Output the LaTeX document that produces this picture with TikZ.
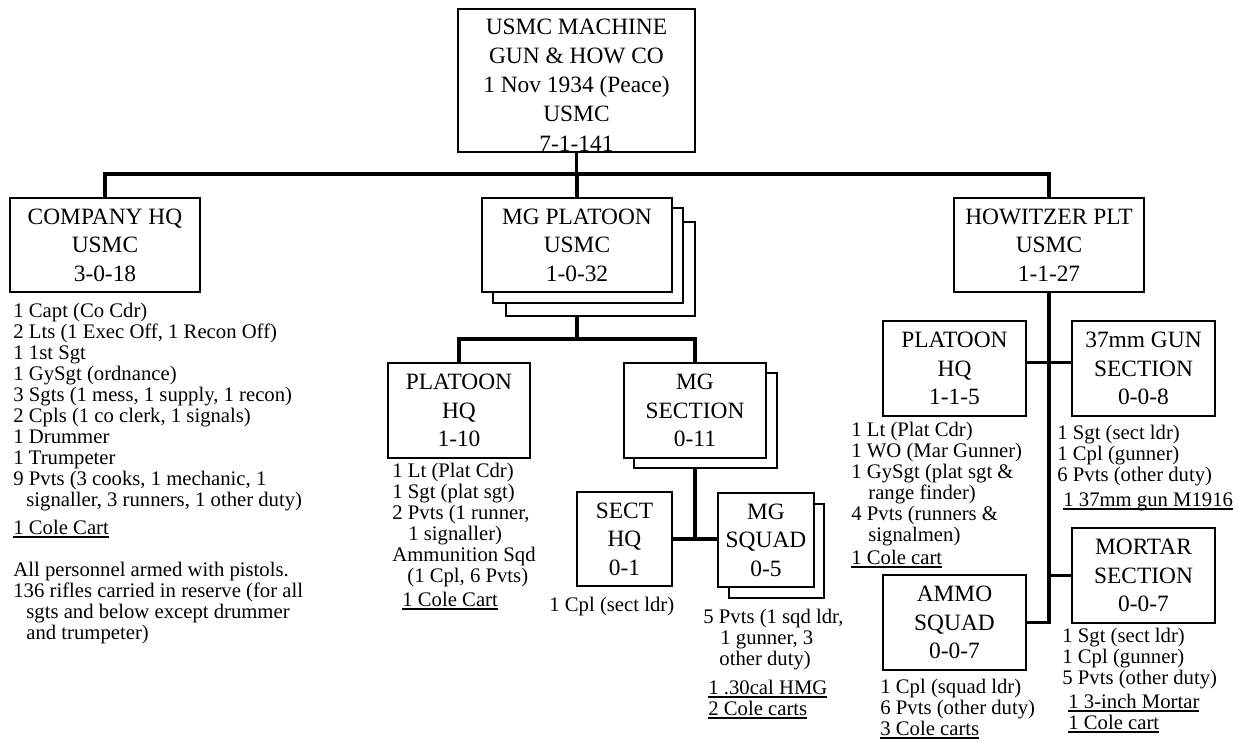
\documentclass[tikz,border=0pt]{standalone}
\usepackage{fontspec}
\setmainfont{Liberation Serif}
\newcommand{\smtxt}{\fontsize{10.35pt}{10.5pt}\selectfont}
\newcommand{\bxtxt}{\fontsize{11.7pt}{14.3pt}\selectfont}
\newcommand{\toptxt}{\fontsize{11.7pt}{14.6pt}\selectfont}
\newcommand{\myul}[1]{\setbox0\hbox{#1}\rlap{\rule[-1.3pt]{\wd0}{0.55pt}}\box0}
\newcommand{\lst}[1]{\begin{tabular}[t]{@{}l@{}}#1\end{tabular}}
\begin{document}
\begin{tikzpicture}[x=0.5pt,y=-0.5pt,
  box/.style={draw, line width=1.3pt, fill=white, align=center, font=\bxtxt, inner sep=0pt},
  conn/.style={line width=1.6pt},
  lstnode/.style={anchor=base west, inner sep=0pt, font=\smtxt}]
\useasboundingbox (0,0) rectangle (1244,742);

% ---- boxes ----
\node[box, minimum width=118.5pt, minimum height=71.5pt] (top) at (576.5,80.5) {};
\node[align=center, font=\toptxt, inner sep=0pt] (toptext) at (576.5,85)
  {USMC MACHINE\\GUN \& HOW CO\\1 Nov 1934 (Peace)\\USMC\\7-1-141};
\node[box, minimum width=95pt, minimum height=47pt] (chq) at (105,245) {COMPANY HQ\\USMC\\3-0-18};
\node[box, minimum width=94.5pt, minimum height=47pt] (mgp3) at (600.5,269) {};
\node[box, minimum width=95pt, minimum height=47.5pt] (mgp2) at (588,255.5) {};
\node[box, minimum width=95pt, minimum height=47pt] (mgp) at (577,245) {MG PLATOON\\USMC\\1-0-32};
\node[box, minimum width=95pt, minimum height=47pt] (how) at (1049,245) {HOWITZER PLT\\USMC\\1-1-27};

\node[box, minimum width=71pt, minimum height=47.5pt] (php) at (459,410.5) {PLATOON\\HQ\\1-10};
\node[box, minimum width=71.5pt, minimum height=47.5pt] (mgs2) at (705.5,420.5) {};
\node[box, minimum width=71pt, minimum height=47.5pt] (mgs) at (695,410.5) {MG\\SECTION\\0-11};
\node[box, minimum width=47.5pt, minimum height=47pt] (shq) at (624.5,539) {SECT\\HQ\\0-1};
\node[box, minimum width=47.5pt, minimum height=47pt] (mgsq2) at (776.5,551) {};
\node[box, minimum width=48pt, minimum height=47pt] (mgsq) at (766,540) {MG\\SQUAD\\0-5};

\node[box, minimum width=71.5pt, minimum height=47.5pt] (hhq) at (954.5,368.5) {PLATOON\\HQ\\1-1-5};
\node[box, minimum width=71.5pt, minimum height=47.5pt] (gun) at (1143.5,368.5) {37mm GUN\\SECTION\\0-0-8};
\node[box, minimum width=71.5pt, minimum height=47.5pt] (ammo) at (954.5,622.5) {AMMO\\SQUAD\\0-0-7};
\node[box, minimum width=71.5pt, minimum height=47.5pt] (mort) at (1143.5,575.5) {MORTAR\\SECTION\\0-0-7};

% ---- connectors ----
\coordinate (bus) at (577,174);
\draw[conn] (top.south) -- (top.south |- bus);
\draw[conn] (chq.north) -- (chq.north |- bus) -- (how.north |- bus) -- (how.north);
\draw[conn] (mgp.north |- bus) -- (mgp.north);
\coordinate (mgbus) at (577,339);
\draw[conn] (mgp.south |- mgp3.south) -- (mgbus);
\draw[conn] (php.north) -- (php.north |- mgbus) -- (mgs.north |- mgbus) -- (mgs.north);
\draw[conn] (mgs.south |- mgs2.south) -- (mgs.south |- shq.east);
\draw[conn] (shq.east) -- (shq.east -| mgsq.west);
\draw[conn] (how.south) -- (how.south |- ammo.east) -- (ammo.east);
\draw[conn] ([yshift=3pt]hhq.east) -- ([yshift=3pt]gun.west);
\draw[conn] (how.south |- mort.west) -- (mort.west);

% ---- lists ----
\node[lstnode] (chqlist) at (13,318) {\lst{%
1 Capt (Co Cdr)\\
2 Lts (1 Exec Off, 1 Recon Off)\\
1 1st Sgt\\
1 GySgt (ordnance)\\
3 Sgts (1 mess, 1 supply, 1 recon)\\
2 Cpls (1 co clerk, 1 signals)\\
1 Drummer\\
1 Trumpeter\\
9 Pvts (3 cooks, 1 mechanic, 1\\
\hspace*{6.5pt}signaller, 3 runners, 1 other duty)\\[3.5pt]
\myul{1 Cole Cart}}};
\node[lstnode] (chqnote) at (13,577) {\lst{%
All personnel armed with pistols.\\
136 rifles carried in reserve (for all\\
\hspace*{6.5pt}sgts and below except drummer\\
\hspace*{6.5pt}and trumpeter)}};

\node[lstnode] (phplist) at (392,478) {\lst{%
1 Lt (Plat Cdr)\\
1 Sgt (plat sgt)\\
2 Pvts (1 runner,\\
\hspace*{8pt}1 signaller)\\
Ammunition Sqd\\
\hspace*{7.5pt}(1 Cpl, 6 Pvts)\\[1.5pt]
\hspace*{5pt}\myul{1 Cole Cart}}};

\node[lstnode] (shqlist) at (549,612) {1 Cpl (sect ldr)};

\node[lstnode] (mgsqlist) at (703,624) {\lst{%
5 Pvts (1 sqd ldr,\\
\hspace*{8.5pt}1 gunner, 3\\
\hspace*{8pt}other duty)\\[4pt]
\hspace*{2.5pt}\myul{1 .30cal HMG}\\
\hspace*{2.5pt}\myul{2 Cole carts}}};

\node[lstnode] (hhqlist) at (851,437) {\lst{%
1 Lt (Plat Cdr)\\
1 WO (Mar Gunner)\\
1 GySgt (plat sgt \&\\
\hspace*{8.5pt}range finder)\\
4 Pvts (runners \&\\
\hspace*{8.5pt}signalmen)\\[1pt]
\myul{1 Cole cart}}};

\node[lstnode] (gunlist) at (1057,440) {\lst{%
1 Sgt (sect ldr)\\
1 Cpl (gunner)\\
6 Pvts (other duty)\\[2pt]
\hspace*{3pt}\myul{1 37mm gun M1916}}};

\node[lstnode] (ammolist) at (880,694) {\lst{%
1 Cpl (squad ldr)\\
6 Pvts (other duty)\\
\myul{3 Cole carts}}};

\node[lstnode] (mortlist) at (1062,643) {\lst{%
1 Sgt (sect ldr)\\
1 Cpl (gunner)\\
5 Pvts (other duty)\\[1.5pt]
\hspace*{3pt}\myul{1 3-inch Mortar}\\
\hspace*{3pt}\myul{1 Cole cart}}};
\end{tikzpicture}
\end{document}
